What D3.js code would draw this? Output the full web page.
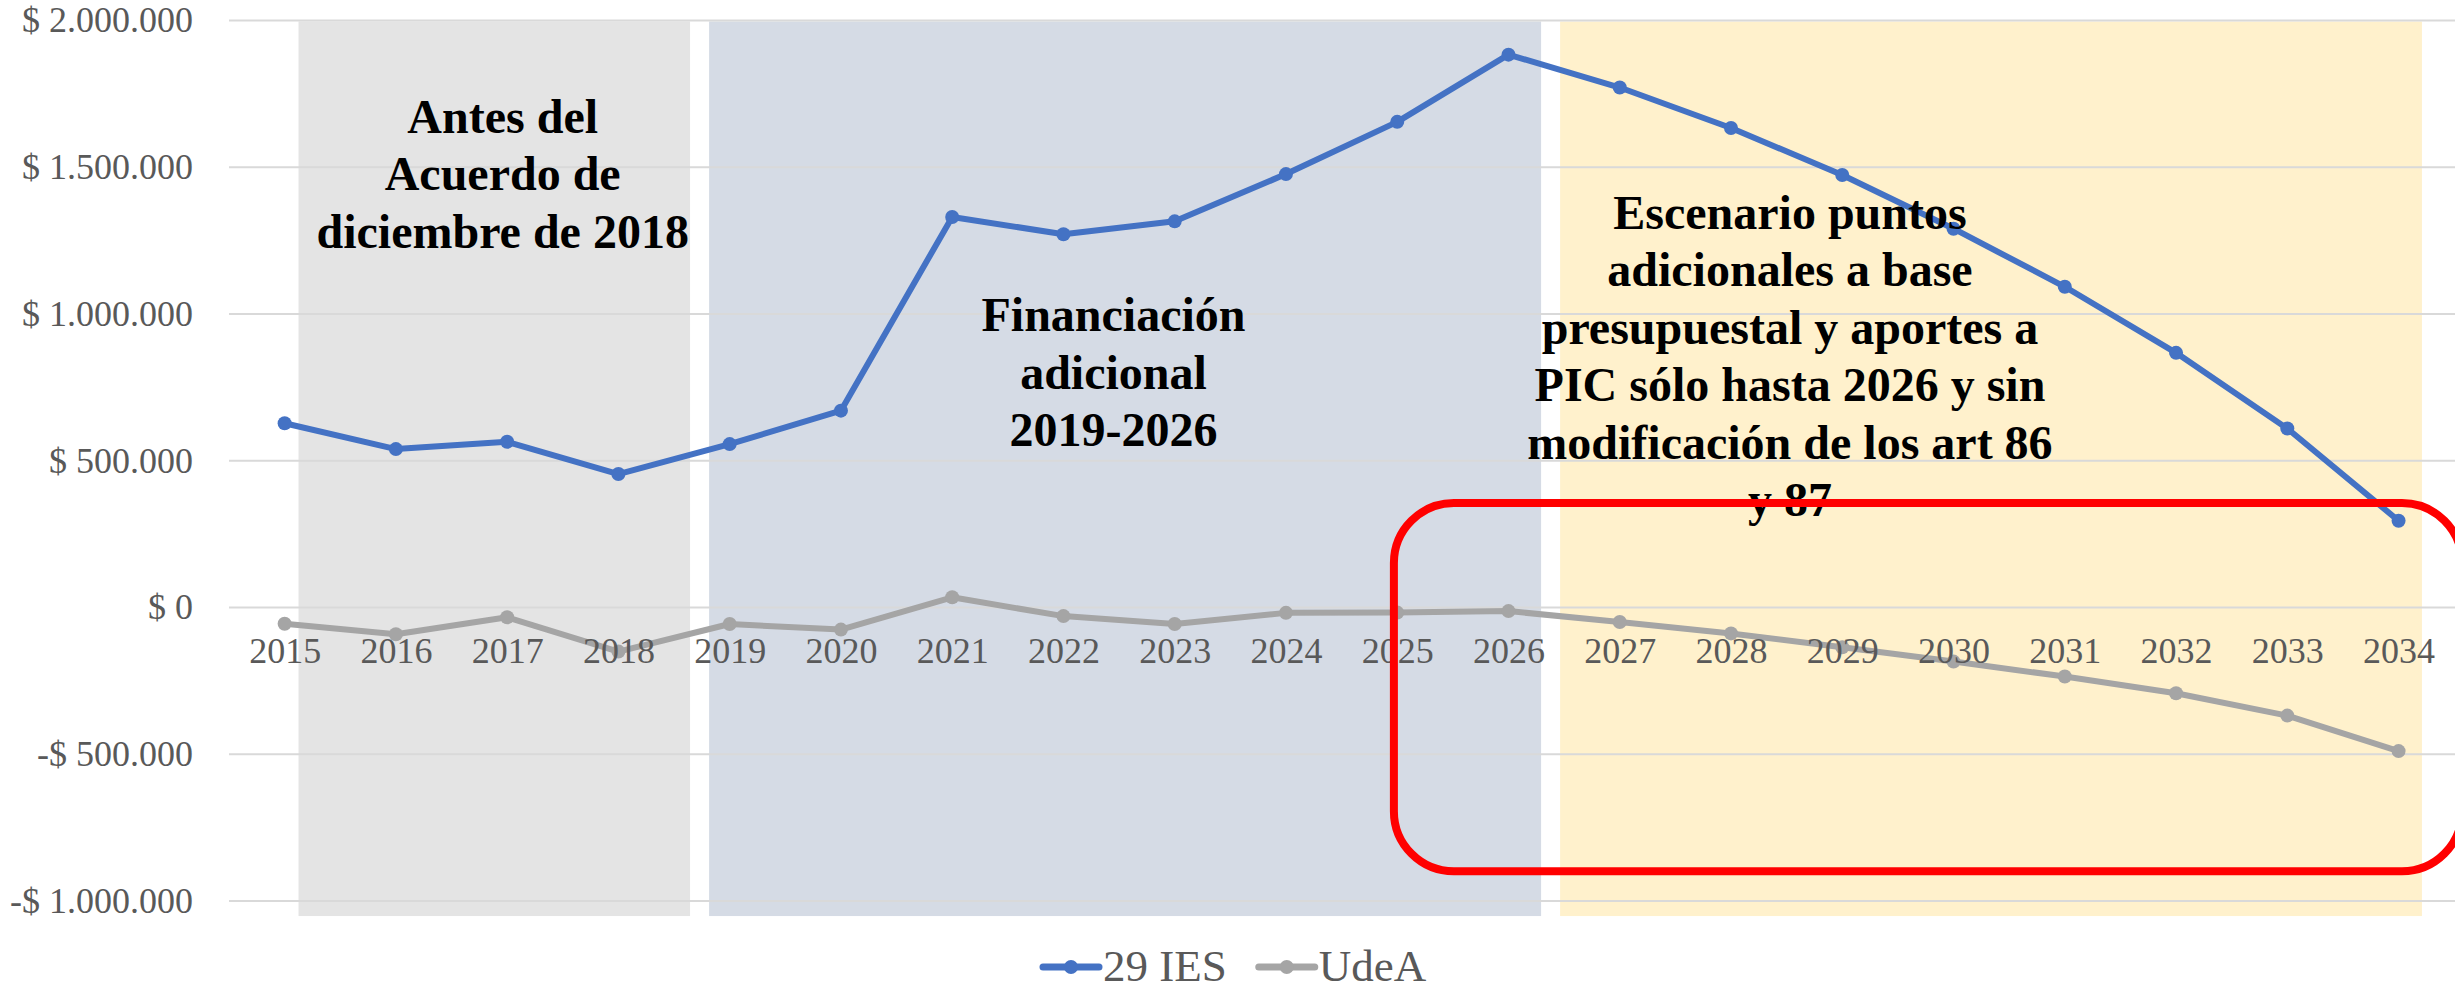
<!DOCTYPE html>
<html>
<head>
<meta charset="utf-8">
<script src="https://cdn.jsdelivr.net/npm/d3@7"></script>
<style>
  html, body { margin: 0; padding: 0; background: #fff; }
  svg { display: block; font-family: "Liberation Serif", "Times New Roman", serif; }
</style>
</head>
<body>
<svg id="chart" width="2455" height="991"></svg>
<script>

// categories (x axis)
var years = ["2015", "2016", "2017", "2018", "2019", "2020", "2021", "2022", "2023", "2024",
             "2025", "2026", "2027", "2028", "2029", "2030", "2031", "2032", "2033", "2034"];

// series values
var ies29 = [626000, 538000, 563000, 453000, 555000, 669000, 1329000, 1270000, 1314000, 1475000,
             1653000, 1882000, 1770000, 1632000, 1472000, 1289000, 1091000, 866000, 608000, 294000];
var udea  = [-57000, -93000, -35000, -152000, -58000, -77000, 33000, -31000, -58000, -20000,
             -19000, -14000, -51000, -90000, -137000, -186000, -237000, -294000, -370000, -491000];

var seriesNames = ["29 IES", "UdeA"];

// y axis ticks
var yTicks = [-1000000, -500000, 0, 500000, 1000000, 1500000, 2000000];

// shaded periods, in years (fractional) and values
var periodStart = [2015.125, 2018.815, 2026.464];
var periodEnd   = [2018.644, 2026.293, 2034.21];
var periodTop = 1995000, periodBottom = -1053000;

// period captions
var captionLines = [
	["Antes del", "Acuerdo de", "diciembre de 2018"],
	["Financiación", "adicional", "2019-2026"],
	["Escenario puntos", "adicionales a base", "presupuestal y aportes a", "PIC sólo hasta 2026 y sin", "modificación de los art 86", "y 87"]
];
var captionYear  = [2016.96, 2022.45, 2028.53];
var captionValue = [1616000, 940000, 1288000];

// red highlight box (years / values)
var boxYears  = [2024.97, 2034.57];
var boxValues = [354000, -900000];



var W = 2455, H = 991;
var plotLeft = 229, plotRight = 2454.2, plotTop = 20, plotBottom = 900.5;

var svg = d3.select("#chart");

// scales
var x = d3.scalePoint().domain(years).range([plotLeft, plotRight]).padding(0.5);
var xYear = d3.scaleLinear().domain([2014.5, 2034.5]).range([plotLeft, plotRight]);
var y = d3.scaleLinear().domain([-1000000, 2000000]).range([plotBottom, plotTop]);

// "$ 2.000.000" style labels
var locale = d3.formatLocale({ decimal: ",", thousands: ".", grouping: [3], currency: ["$ ", ""], minus: "-" });
var fmt = locale.format("$,.0f");

var periodColors = ["#E4E4E4", "#D5DBE5", "#FFF1CC"];
var seriesColors = ["#4472C4", "#A5A5A5"];

// period bands
svg.append("g").selectAll("rect")
	.data(periodStart)
	.join("rect")
	.attr("x", function (d) { return xYear(d); })
	.attr("y", y(periodTop))
	.attr("width", function (d, i) { return xYear(periodEnd[i]) - xYear(d); })
	.attr("height", y(periodBottom) - y(periodTop))
	.attr("fill", function (d, i) { return periodColors[i]; });

// gridlines + y labels
var yAxis = d3.axisLeft(y).tickValues(yTicks).tickFormat(fmt).tickSize(-(W - plotLeft)).tickPadding(36);
var gy = svg.append("g").attr("transform", "translate(" + plotLeft + ",0)").call(yAxis);
gy.select(".domain").remove();
gy.selectAll(".tick line").attr("stroke", "#D9D9D9").attr("stroke-width", 2);
gy.selectAll(".tick text")
	.attr("fill", "#595959")
	.attr("font-size", 36)
	.attr("font-family", "Liberation Serif")
	.attr("dy", "0.33em");

// series lines and markers
var series = [ies29, udea];
var line = d3.line().x(function (d, i) { return x(years[i]); }).y(function (d) { return y(d); });

series.forEach(function (vals, s) {
	var g = svg.append("g");
	g.append("path")
		.datum(vals)
		.attr("d", line)
		.attr("fill", "none")
		.attr("stroke", seriesColors[s])
		.attr("stroke-width", 6)
		.attr("stroke-linejoin", "round");
	g.selectAll("circle")
		.data(vals)
		.join("circle")
		.attr("cx", function (d, i) { return x(years[i]); })
		.attr("cy", function (d) { return y(d); })
		.attr("r", 7)
		.attr("fill", seriesColors[s]);
});

// x labels sit just under the zero line
var xAxis = d3.axisBottom(x).tickSize(0).tickPadding(0);
var gx = svg.append("g").attr("transform", "translate(0," + y(0) + ")").call(xAxis);
gx.select(".domain").remove();
gx.selectAll(".tick text")
	.attr("fill", "#595959")
	.attr("font-size", 36)
	.attr("font-family", "Liberation Serif")
	.attr("dy", null)
	.attr("y", 56);

// captions
var lineGap = 57.5;
captionLines.forEach(function (lines, c) {
	svg.append("text")
		.attr("text-anchor", "middle")
		.attr("font-size", 48)
		.attr("font-weight", "bold")
		.attr("fill", "#000")
		.selectAll("tspan")
		.data(lines)
		.join("tspan")
		.attr("x", xYear(captionYear[c]))
		.attr("y", function (d, i) { return y(captionValue[c]) + i * lineGap; })
		.text(function (d) { return d; });
});

// red highlight box
svg.append("rect")
	.attr("x", xYear(boxYears[0]))
	.attr("y", y(boxValues[0]))
	.attr("width", xYear(boxYears[1]) - xYear(boxYears[0]))
	.attr("height", y(boxValues[1]) - y(boxValues[0]))
	.attr("rx", 60).attr("ry", 60)
	.attr("fill", "none")
	.attr("stroke", "#FF0000")
	.attr("stroke-width", 8);

// legend
var legend = svg.append("g").attr("transform", "translate(1043,967)");
var lx = 0;
seriesNames.forEach(function (name, s) {
	var item = legend.append("g").attr("transform", "translate(" + lx + ",0)");
	item.append("line")
		.attr("x1", 0).attr("x2", 56).attr("y1", 0).attr("y2", 0)
		.attr("stroke", seriesColors[s]).attr("stroke-width", 7).attr("stroke-linecap", "round");
	item.append("circle").attr("cx", 28).attr("cy", 0).attr("r", 7).attr("fill", seriesColors[s]);
	var t = item.append("text")
		.attr("x", 60).attr("y", 14)
		.attr("font-size", 45)
		.attr("fill", "#595959")
		.text(name);
	lx += 60 + t.node().getComputedTextLength() + 32;
});

</script>
</body>
</html>
